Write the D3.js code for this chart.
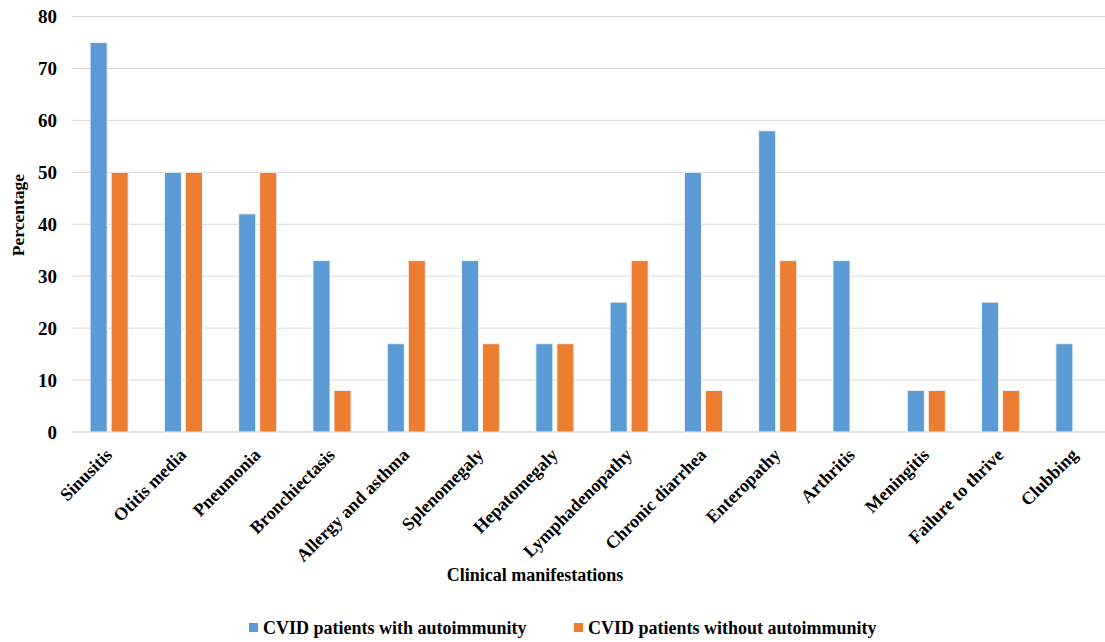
<!DOCTYPE html>
<html>
<head>
<meta charset="utf-8">
<script src="https://cdn.jsdelivr.net/npm/d3@7"></script>
<style>
  body { margin: 0; background: #fff; }
  svg { display: block; }
</style>
</head>
<body>
<div id="chart"></div>
<script>
// data
const categories = ["Sinusitis", "Otitis media", "Pneumonia", "Bronchiectasis", "Allergy and asthma",
  "Splenomegaly", "Hepatomegaly", "Lymphadenopathy", "Chronic diarrhea", "Enteropathy",
  "Arthritis", "Meningitis", "Failure to thrive", "Clubbing"];
const withAuto = [75, 50, 42, 33, 17, 33, 17, 25, 50, 58, 33, 8, 25, 17];
const withoutAuto = [50, 50, 50, 8, 33, 17, 17, 33, 8, 33, 0, 8, 8, 0];
const seriesNames = ["CVID patients with autoimmunity", "CVID patients without autoimmunity"];
const colors = ["#5B9BD5", "#ED7D31"];
const yTicks = [0, 10, 20, 30, 40, 50, 60, 70, 80];

const width = 1105, height = 642;
const plot = {left: 72, right: 1112, top: 16.5, bottom: 432};
const font = "Liberation Serif, DejaVu Serif, serif";

const svg = d3.select("#chart").append("svg")
    .attr("width", width)
    .attr("height", height)
    .style("font-family", font)
    .style("font-weight", "bold");

const xScale = d3.scaleBand()
    .domain(categories)
    .range([plot.left, plot.right]);

// two bars per category, 17px wide with a small gap
const xInner = d3.scaleBand()
    .domain([0, 1])
    .range([0, xScale.bandwidth()])
    .paddingInner(0.19)
    .paddingOuter(0.86);

const yScale = d3.scaleLinear()
    .domain([0, 80])
    .range([plot.bottom, plot.top]);

// gridlines
svg.selectAll("line.grid")
    .data(yTicks)
    .join("line")
    .attr("class", "grid")
    .attr("x1", plot.left)
    .attr("x2", plot.right)
    .attr("y1", d => yScale(d))
    .attr("y2", d => yScale(d))
    .attr("stroke", "#d9d9d9")
    .attr("stroke-width", d => d === 0 ? 1.5 : 1);

// y tick labels
svg.selectAll("text.ytick")
    .data(yTicks)
    .join("text")
    .attr("class", "ytick")
    .attr("x", 57)
    .attr("y", d => yScale(d))
    .attr("dy", "0.35em")
    .attr("text-anchor", "end")
    .attr("font-size", 19)
    .text(d => d);

// bars
const rows = categories.map((c, i) => ({cat: c, vals: [withAuto[i], withoutAuto[i]]}));

const groups = svg.selectAll("g.cat")
    .data(rows)
    .join("g")
    .attr("class", "cat")
    .attr("transform", d => `translate(${xScale(d.cat)},0)`);

groups.selectAll("rect")
    .data(d => d.vals.map((v, k) => ({k, v})).filter(e => e.v > 0))
    .join("rect")
    .attr("x", d => xInner(d.k))
    .attr("width", xInner.bandwidth())
    .attr("y", d => yScale(d.v))
    .attr("height", d => yScale(0) - yScale(d.v))
    .attr("fill", d => colors[d.k])
    .attr("stroke", "#f2f2f2")
    .attr("stroke-width", 1);

// x category labels
svg.selectAll("text.xlab")
    .data(categories)
    .join("text")
    .attr("class", "xlab")
    .attr("text-anchor", "end")
    .attr("font-size", 18)
    .attr("transform", d => `translate(${xScale(d) + xScale.bandwidth() / 2 + 4},${plot.bottom + 24}) rotate(-45)`)
    .text(d => d);

// axis titles
svg.append("text")
    .attr("transform", "translate(24,215) rotate(-90)")
    .attr("text-anchor", "middle")
    .attr("font-size", 17.5)
    .text("Percentage");

svg.append("text")
    .attr("x", 535)
    .attr("y", 581)
    .attr("text-anchor", "middle")
    .attr("font-size", 18)
    .text("Clinical manifestations");

// legend
const legendX = [249, 574];
const legend = svg.selectAll("g.legend")
    .data(seriesNames)
    .join("g")
    .attr("class", "legend")
    .attr("transform", (d, i) => `translate(${legendX[i]},628)`);

legend.append("rect")
    .attr("x", 0)
    .attr("y", -5)
    .attr("width", 9)
    .attr("height", 9)
    .attr("fill", (d, i) => colors[i]);

legend.append("text")
    .attr("x", 14)
    .attr("y", 0)
    .attr("dy", "0.35em")
    .attr("font-size", 18)
    .text(d => d);
</script>
</body>
</html>
